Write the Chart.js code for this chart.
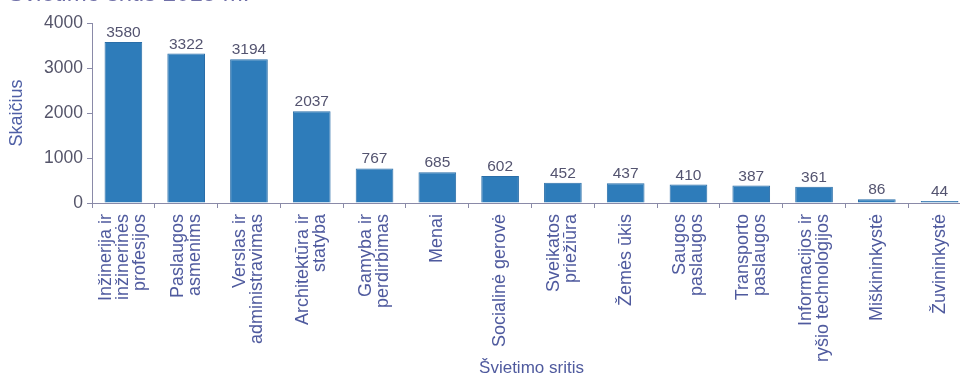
<!DOCTYPE html>
<html>
<head>
<meta charset="utf-8">
<script src="https://cdn.jsdelivr.net/npm/chart.js@4"></script>
<style>
  html, body { margin: 0; padding: 0; background: #ffffff; overflow: hidden; }
  #wrap { position: relative; width: 980px; height: 379px; }
  #title { position: absolute; left: 8px; top: -21px; font-family: "Liberation Sans", Arial, sans-serif; font-size: 24px; color: #7070a8; white-space: nowrap; }
</style>
</head>
<body>
<div id="wrap">
  <div id="title">Švietimo sritis 2015 m.</div>
  <canvas id="c" width="980" height="379"></canvas>
</div>
<script>
const categories = [
  ["Inžinerija ir", "inžinerinės", "profesijos"],
  ["Paslaugos", "asmenims"],
  ["Verslas ir", "administravimas"],
  ["Architektūra ir", "statyba"],
  ["Gamyba ir", "perdirbimas"],
  ["Menai"],
  ["Socialinė gerovė"],
  ["Sveikatos", "priežiūra"],
  ["Žemės ūkis"],
  ["Saugos", "paslaugos"],
  ["Transporto", "paslaugos"],
  ["Informacijos ir", "ryšio technologijos"],
  ["Miškininkystė"],
  ["Žuvininkystė"]
];
const values = [3580, 3322, 3194, 2037, 767, 685, 602, 452, 437, 410, 387, 361, 86, 44];
const yTicks = [0, 1000, 2000, 3000, 4000];
const yTitle = "Skaičius";
const xTitle = "Švietimo sritis";

const FONT = '"Liberation Sans", Arial, sans-serif';
const axisColor = '#8a8aa8';
const labelColor = '#4f5a9e';

const valueLabels = {
  id: 'valueLabels',
  afterDatasetsDraw(chart) {
    const ctx = chart.ctx;
    const meta = chart.getDatasetMeta(0);
    ctx.save();
    ctx.font = '15.5px ' + FONT;
    ctx.fillStyle = '#545470';
    ctx.textAlign = 'center';
    ctx.textBaseline = 'alphabetic';
    meta.data.forEach((bar, i) => {
      ctx.fillText(String(values[i]), bar.x, bar.y - 5);
    });
    ctx.restore();
  }
};

// Rotated, centred multi-line category labels placed at the x scale's tick pixels
const categoryLabels = {
  id: 'categoryLabels',
  afterDraw(chart) {
    const ctx = chart.ctx;
    const scale = chart.scales.x;
    const lh = 17;
    ctx.save();
    ctx.font = '18px ' + FONT;
    ctx.fillStyle = labelColor;
    ctx.textAlign = 'right';
    ctx.textBaseline = 'middle';
    categories.forEach((lines, i) => {
      const px = scale.getPixelForTick(i);
      const n = lines.length;
      lines.forEach((line, j) => {
        const x = px + (j - (n - 1) / 2) * lh;
        ctx.save();
        ctx.translate(x, scale.top + 11);
        ctx.rotate(-Math.PI / 2);
        ctx.fillText(line, 0, 0);
        ctx.restore();
      });
    });
    ctx.restore();
  }
};

new Chart(document.getElementById('c'), {
  type: 'bar',
  data: {
    labels: categories,
    datasets: [{
      data: values,
      backgroundColor: '#2e7cba',
      borderColor: '#2a6ea8',
      borderWidth: 1,
      categoryPercentage: 1.0,
      barPercentage: 0.6
    }]
  },
  options: {
    responsive: false,
    animation: false,
    layout: { padding: { top: 23, right: 9, left: 0, bottom: 0 } },
    plugins: { legend: { display: false }, tooltip: { enabled: false } },
    scales: {
      x: {
        afterFit(scale) { scale.height = 176; },
        grid: { display: true, drawOnChartArea: false, tickLength: 5, color: axisColor, offset: true },
        border: { color: axisColor, width: 1 },
        ticks: { display: false },
        title: { display: true, text: xTitle, color: labelColor, font: { family: FONT, size: 17 }, padding: { top: 0, bottom: 0 } }
      },
      y: {
        min: 0, max: 4000,
        afterFit(scale) { scale.width = 92; },
        afterBuildTicks(scale) { scale.ticks = yTicks.map(v => ({ value: v })); },
        grid: { display: true, drawOnChartArea: false, tickLength: 5, color: axisColor },
        border: { color: axisColor, width: 1 },
        ticks: { color: '#55556a', font: { family: FONT, size: 17.5 }, padding: 4, callback: (v) => String(v) },
        title: { display: true, text: yTitle, color: '#5060a6', font: { family: FONT, size: 18 }, padding: { top: 6, bottom: 0 } }
      }
    }
  },
  plugins: [valueLabels, categoryLabels]
});
</script>
</body>
</html>
